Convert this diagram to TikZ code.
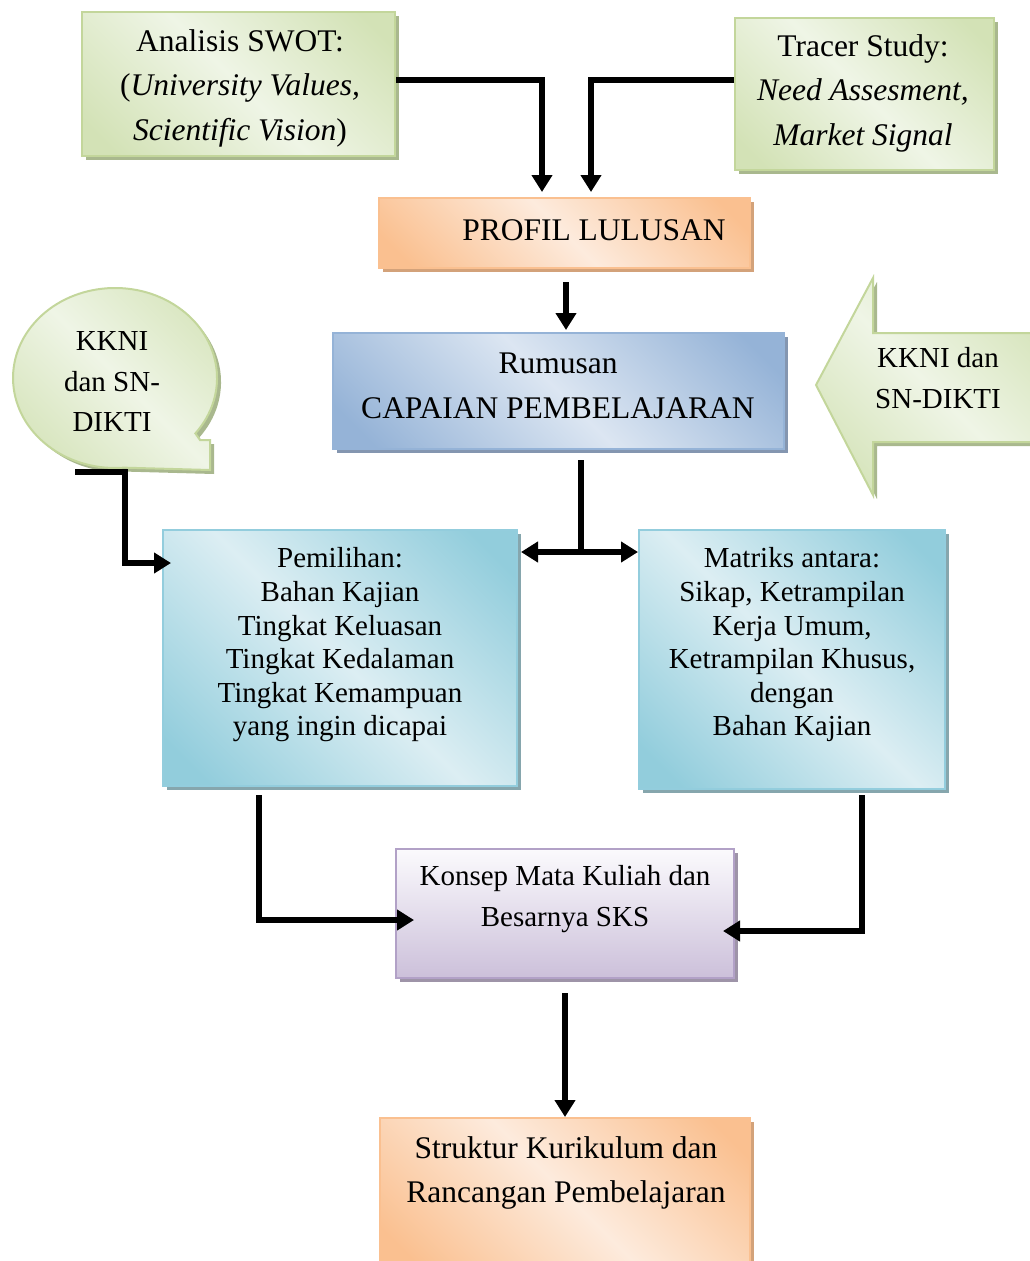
\documentclass[tikz,border=0pt]{standalone}
\usepackage{fontspec}
\setmainfont{Liberation Serif}
\usetikzlibrary{arrows.meta,shadows,calc}
\definecolor{grnD}{HTML}{D3E2B6}
\definecolor{grnL}{HTML}{EFF5E6}
\definecolor{grnB}{HTML}{C3D69B}
\definecolor{grnS}{HTML}{A9B88E}
\definecolor{orgD}{HTML}{FAC090}
\definecolor{orgL}{HTML}{FDEBDD}
\definecolor{orgB}{HTML}{FAC090}
\definecolor{orgS}{HTML}{D3A27A}
\definecolor{bluD}{HTML}{95B3D7}
\definecolor{bluL}{HTML}{DCE6F2}
\definecolor{bluB}{HTML}{95B3D7}
\definecolor{bluS}{HTML}{8496B0}
\definecolor{tealD}{HTML}{92CDDC}
\definecolor{tealL}{HTML}{DCEEF3}
\definecolor{tealB}{HTML}{93CDDD}
\definecolor{tealS}{HTML}{86A6AD}
\definecolor{purT}{HTML}{FBFAFD}
\definecolor{purD}{HTML}{CCC0DA}
\definecolor{purB}{HTML}{B2A1C7}
\definecolor{purS}{HTML}{9E94A8}
\pgfdeclarehorizontalshading{diaggrn}{100bp}{color(0bp)=(grnD); color(20bp)=(grnD); color(50bp)=(grnL); color(80bp)=(grnD); color(100bp)=(grnD)}
\pgfdeclarehorizontalshading{diagorg}{100bp}{color(0bp)=(orgD); color(20bp)=(orgD); color(50bp)=(orgL); color(80bp)=(orgD); color(100bp)=(orgD)}
\pgfdeclarehorizontalshading{diagblu}{100bp}{color(0bp)=(bluD); color(20bp)=(bluD); color(50bp)=(bluL); color(80bp)=(bluD); color(100bp)=(bluD)}
\pgfdeclarehorizontalshading{diagteal}{100bp}{color(0bp)=(tealD); color(20bp)=(tealD); color(50bp)=(tealL); color(80bp)=(tealD); color(100bp)=(tealD)}
\begin{document}
\begin{tikzpicture}[x=1pt,y=-1pt,
  box/.style={draw, line width=2pt, inner sep=0pt, shade, shading angle=45},
  greenbox/.style={box, draw=grnB, shading=diaggrn, drop shadow={shadow xshift=4pt, shadow yshift=-4pt, fill=grnS, opacity=1}},
  orangebox/.style={box, draw=orgB, shading=diagorg, drop shadow={shadow xshift=4pt, shadow yshift=-4pt, fill=orgS, opacity=1}},
  bluebox/.style={box, draw=bluB, shading=diagblu, drop shadow={shadow xshift=4pt, shadow yshift=-4pt, fill=bluS, opacity=1}},
  tealbox/.style={box, draw=tealB, shading=diagteal, drop shadow={shadow xshift=4pt, shadow yshift=-4pt, fill=tealS, opacity=1}},
  purplebox/.style={draw=purB, line width=2pt, inner sep=0pt, top color=purT, bottom color=purD, drop shadow={shadow xshift=4pt, shadow yshift=-4pt, fill=purS, opacity=1}},
  greenshape/.style={draw=grnB, line width=2pt, shade, shading=diaggrn, shading angle=45, drop shadow={shadow xshift=4pt, shadow yshift=-4pt, fill=grnS, opacity=1}},
  txt/.style={align=center, inner sep=0pt, text=black},
  fbig/.style={font=\fontsize{31.5}{44.5}\selectfont},
  fmid/.style={font=\fontsize{29}{40.5}\selectfont},
  fsmall/.style={font=\fontsize{29}{33.6}\selectfont},
  conn/.style={line width=6pt, draw=black},
  arr/.style={conn, -{Triangle[length=17pt,width=20pt]}},
  darr/.style={conn, {Triangle[length=17pt,width=20pt]}-{Triangle[length=17pt,width=20pt]}}
]
\path[use as bounding box] (0,0) rectangle (1030,1261);
\clip (0,0) rectangle (1030,1261);

% boxes
\node[greenbox, minimum width=313pt, minimum height=144pt] (swot) at (238.5,84) {};
\node[greenbox, minimum width=259pt, minimum height=152pt] (tracer) at (864.5,94) {};
\node[orangebox, minimum width=371pt, minimum height=70pt] (profil) at (564.5,233) {};
\node[bluebox, minimum width=451pt, minimum height=116pt] (rum) at (558.5,391) {};
\node[tealbox, minimum width=354pt, minimum height=256pt] (pem) at (340,658) {};
\node[tealbox, minimum width=306pt, minimum height=259pt] (mat) at (792,659.5) {};
\node[purplebox, minimum width=338pt, minimum height=129pt] (kon) at (565,913.5) {};
\node[orangebox, minimum width=370pt, minimum height=150pt] (str) at (565,1193) {};

% callout (left) and block arrow (right)
\path[greenshape] (195.4,433.4) arc[start angle=38, end angle=-275, x radius=102, y radius=90] -- (210,470) -- (210,440) -- (200,440) -- cycle;
\path[greenshape] (816,385) -- (873,278) -- (873,333) -- (1045,333) -- (1045,442) -- (873,442) -- (873,495) -- cycle;
\coordinate (kktail) at (75,472);

% texts
\node[txt, fbig] (tswot) at (240,88) {Analisis SWOT:\\(\textit{University Values,}\\\textit{Scientific Vision})};
\node[txt, fbig] (ttracer) at (863,93) {Tracer Study:\\\textit{Need Assesment,}\\\textit{Market Signal}};
\node[txt, fbig] (tprofil) at (594,230) {PROFIL LULUSAN};
\node[txt, fbig] (trum) at (558,386) {Rumusan\\CAPAIAN PEMBELAJARAN};
\node[txt, fmid] (tkk1) at (112,382) {KKNI\\dan SN-\\DIKTI};
\node[txt, fmid] (tkk2) at (938,378) {KKNI dan\\SN-DIKTI};
\node[txt, fsmall] (tpem) at (340,645) {Pemilihan:\\Bahan Kajian\\Tingkat Keluasan\\Tingkat Kedalaman\\Tingkat Kemampuan\\yang ingin dicapai};
\node[txt, fsmall] (tmat) at (792,645) {Matriks antara:\\Sikap, Ketrampilan\\Kerja Umum,\\Ketrampilan Khusus,\\dengan\\Bahan Kajian};
\node[txt, fmid] (tkon) at (565,899) {Konsep Mata Kuliah dan\\Besarnya SKS};
\node[txt, fbig] (tstr) at (566,1173) {Struktur Kurikulum dan\\Rancangan Pembelajaran};

% connectors
\draw[arr] ([yshift=4pt]swot.east) -| ([xshift=-22.5pt,yshift=5pt]profil.north);
\draw[arr] ([yshift=14pt]tracer.west) -| ([xshift=26.5pt,yshift=5pt]profil.north);
\draw[arr] ([xshift=1.5pt,yshift=-13pt]profil.south) -- ([xshift=7.5pt,yshift=2pt]rum.north);
\coordinate (split) at (581,552);
\draw[conn] ([xshift=22.5pt,yshift=-10pt]rum.south) -- (split);
\draw[darr] ([xshift=3pt]pem.east |- split) -- (mat.west |- split);
\draw[arr] (kktail) -- ++(50,0) |- ([xshift=9pt,yshift=95pt]pem.west);
\draw[arr] ([xshift=-81pt,yshift=-8pt]pem.south) |- ([xshift=19pt,yshift=-6.5pt]kon.west);
\draw[arr] ([xshift=70pt,yshift=-5pt]mat.south) |- ([xshift=-12pt,yshift=-17.5pt]kon.east);
\draw[arr] ([yshift=-14pt]kon.south) -- (str.north);
\end{tikzpicture}
\end{document}
